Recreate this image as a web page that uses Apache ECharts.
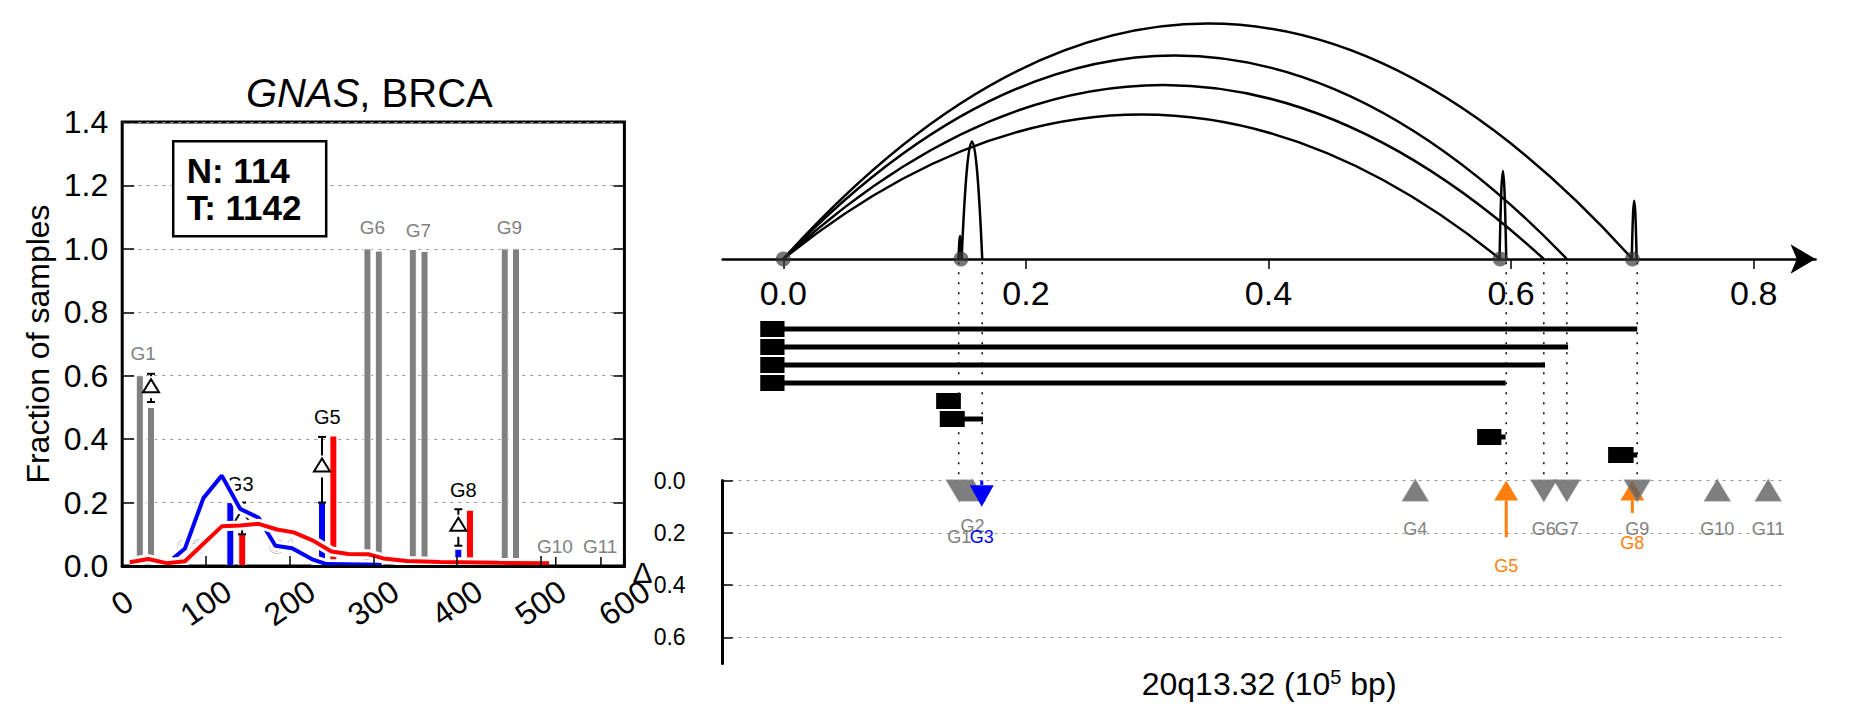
<!DOCTYPE html>
<html><head><meta charset="utf-8">
<script src="https://cdn.jsdelivr.net/npm/echarts@6/dist/echarts.min.js"></script>
<style>html,body{margin:0;padding:0;background:#fff}#c{width:1851px;height:718px}</style>
</head><body><div id="c"></div>
<script>
const FONT = "'Liberation Sans', Arial, sans-serif";

// ---------------- Left panel (GNAS, BRCA) ----------------
const grayBarX = [21, 34.4, 293, 306.6, 347.2, 361.2, 457, 470.5];
const grayBarV = [0.6, 0.5, 1.0, 0.993, 0.998, 0.992, 1.0, 1.0];
const blueBarX = [129.2, 238.7, 401.6];
const blueBarV = [0.2, 0.2, 0.053];
const redBarX = [143.4, 252.3, 415.5];
const redBarV = [0.1, 0.41, 0.176];
const errX = [34.4, 143.2, 238.7, 401.6];
const errLow = [0.517, 0.1, 0.2, 0.064];
const errHigh = [0.606, 0.2, 0.407, 0.179];
const errMark = [0.567, 0.155, 0.317, 0.13];
const blueLineX = [61, 75, 97, 119, 141, 163, 183, 203, 228, 244, 310];
const blueLineY = [0.024, 0.055, 0.214, 0.285, 0.18, 0.152, 0.064, 0.056, 0.02, 0.006, 0.004];
const redLineX = [9, 31, 53, 75, 97, 119, 141, 163, 185, 205, 228, 250, 270, 294, 312, 340, 380, 450, 510];
const redLineY = [0.012, 0.022, 0.009, 0.015, 0.07, 0.125, 0.128, 0.133, 0.115, 0.106, 0.08, 0.046, 0.038, 0.037, 0.024, 0.016, 0.013, 0.01, 0.009];
const leftGeneNames = ['G1','G2','G3','G4','G5','G6','G7','G8','G9','G10','G11'];
const leftGeneLabelX = [25, 81, 141, 190.6, 245, 299, 353.8, 407.6, 462.5, 517, 571];
const leftGeneLabelY = [0.67, 0.062, 0.258, 0.062, 0.47, 1.066, 1.059, 0.24, 1.066, 0.06, 0.06];
const leftGeneStyle = ['gray','ghost','black','ghost','black','gray','gray','black','gray','gray','gray'];
const geneTickX = [518, 572];
const sampleCounts = ['N: 114', 'T: 1142'];

// ---------------- Right panel (20q13.32) ----------------
const topTickValues = [0, 0.2, 0.4, 0.6, 0.8];
const junctionPos = [0, 0.1465, 0.591, 0.700];
const arcStart  = [0, 0, 0, 0, 0.1445, 0.147, 0.5905, 0.6995];
const arcEnd    = [0.591, 0.627, 0.646, 0.700, 0.147, 0.164, 0.596, 0.7035];
const arcHeight = [0.602, 0.725, 0.848, 0.981, 0.096, 0.49, 0.367, 0.243];
const rowIndex    = [0, 1, 2, 3, 4, 5, 6, 7];
const rowBoxStart = [-0.019, -0.019, -0.019, -0.019, 0.126, 0.129, 0.572, 0.680];
const rowBoxEnd   = [0.001, 0.001, 0.001, 0.001, 0.1464, 0.1496, 0.592, 0.701];
const rowLineEnd  = [0.704, 0.647, 0.628, 0.5955, 0.1464, 0.1647, 0.5955, 0.704];
const guidePos = [0.1446, 0.164, 0.596, 0.627, 0.646, 0.704];
const deltaTicks = [0, 0.2, 0.4, 0.6];
const deltaGenes  = ['G1','G2','G3','G4','G5','G6','G7','G8','G9','G10','G11'];
const deltaPos    = [0.145, 0.156, 0.1636, 0.521, 0.596, 0.627, 0.646, 0.700, 0.704, 0.770, 0.812];
const deltaKind   = ['nsDown','nsUp','down','nsUp','up','nsDown','nsDown','up','nsDown','nsUp','nsUp'];
const deltaTail   = [0, 0, 0.1, 0, 0.217, 0, 0, 0.124, 0, 0, 0];
const deltaLabelY = [0.215, 0.174, 0.215, 0.185, 0.327, 0.185, 0.185, 0.239, 0.185, 0.185, 0.185];

const GRAY = '#808080', BLUE = '#0000ff', RED = '#ff0000', ORANGE = '#ff7f0e';
const kindColor = {nsUp: 'rgba(95,95,95,0.8)', nsDown: 'rgba(95,95,95,0.8)', up: ORANGE, down: BLUE};
const labelColor = {nsUp: GRAY, nsDown: GRAY, up: ORANGE, down: BLUE};

function barRender(fill, w) {
  return function (params, api) {
    const b = api.coord([api.value(0), 0]);
    const t = api.coord([api.value(0), api.value(1)]);
    return {type: 'rect', shape: {x: b[0] - w / 2, y: t[1], width: w, height: b[1] - t[1]},
            style: {fill: fill, stroke: '#fff', lineWidth: 1}};
  };
}
function zip(a, b) { return a.map((v, i) => [v, b[i]]); }

const chart = echarts.init(document.getElementById('c'), null, {renderer: 'svg'});
const txt = {fontFamily: FONT, color: '#000'};

const option = {
  animation: false,
  backgroundColor: '#fff',
  title: [
    {text: '{i|GNAS}, BRCA', left: 246, top: 73, padding: 0,
     textStyle: {fontFamily: FONT, fontSize: 40, fontWeight: 'normal', color: '#000',
                 rich: {i: {fontFamily: FONT, fontSize: 40, fontStyle: 'italic', color: '#000'}}}},
    {text: sampleCounts.join('\n'), left: 172.7, top: 140.7, padding: [11, 25, 11, 14],
     borderColor: '#000', borderWidth: 2.5, backgroundColor: '#fff',
     textStyle: {fontFamily: FONT, fontSize: 35, fontWeight: 'bold', color: '#000', lineHeight: 37}}
  ],
  grid: [
    {left: 122.2, top: 122, width: 502.2, height: 444, show: true, borderColor: '#000', borderWidth: 3},
    {left: 722.65, top: 19, width: 1092.9, height: 240},
    {left: 722.65, top: 320, width: 1105, height: 144},
    {left: 722.65, top: 480.5, width: 1060, height: 183}
  ],
  xAxis: [
    {gridIndex: 0, type: 'value', min: 0, max: 600, interval: 100, z: 10,
     axisLine: {show: true, lineStyle: {color: '#000', width: 3}},
     axisTick: {show: true, inside: true, length: 10, lineStyle: {color: '#000', width: 1.5}},
     axisLabel: {rotate: 35, align: 'center', verticalAlign: 'middle', margin: 37, fontSize: 32, ...txt},
     splitLine: {show: false}},
    {gridIndex: 1, type: 'value', min: -0.05, max: 0.851,
     axisLine: {show: true, symbol: ['none', 'arrow'], symbolSize: [22, 25], lineStyle: {color: '#000', width: 2.5}},
     axisTick: {show: true, customValues: topTickValues, length: 10, lineStyle: {color: '#000', width: 1.5}},
     axisLabel: {customValues: topTickValues, formatter: v => Number(v).toFixed(1), margin: 17, fontSize: 34, ...txt},
     splitLine: {show: false}},
    {gridIndex: 2, type: 'value', min: -0.05, max: 0.861, show: false},
    {gridIndex: 3, type: 'value', min: -0.05, max: 0.8239,
     axisLine: {show: false}, axisTick: {show: false}, axisLabel: {show: false}, splitLine: {show: false},
     name: '20q13.32 (10{sup|5} bp)', nameLocation: 'middle', nameGap: 3,
     nameTextStyle: {fontFamily: FONT, fontSize: 32, color: '#000', padding: [0, 0, 0, 33],
                     rich: {sup: {fontFamily: FONT, fontSize: 20, color: '#000', verticalAlign: 'top', padding: [0, 0, 14, 0]}}}}
  ],
  yAxis: [
    {gridIndex: 0, type: 'value', min: 0, max: 1.4, interval: 0.2,
     axisLine: {show: false},
     axisTick: {show: true, inside: true, length: 12, lineStyle: {color: '#000', width: 1.5}},
     axisLabel: {formatter: v => Number(v).toFixed(1), margin: 14, fontSize: 32, ...txt},
     splitLine: {show: true, lineStyle: {type: [3, 5], color: '#999', width: 1}},
     name: 'Fraction of samples', nameLocation: 'middle', nameGap: 68,
     nameTextStyle: {fontFamily: FONT, fontSize: 32, color: '#000'}},
    {gridIndex: 0, type: 'value', position: 'right', min: 0, max: 1.4, interval: 0.2,
     axisLine: {show: false}, axisLabel: {show: false}, splitLine: {show: false},
     axisTick: {show: true, inside: true, length: 11, lineStyle: {color: '#000', width: 1.5}}},
    {gridIndex: 1, type: 'value', min: 0, max: 1, show: false},
    {gridIndex: 2, type: 'value', min: -0.5, max: 7.5, inverse: true, show: false},
    {gridIndex: 3, type: 'value', min: 0, max: 0.7, interval: 0.2, inverse: true,
     axisLine: {show: true, onZero: false, lineStyle: {color: '#000', width: 3}},
     axisTick: {show: true, inside: true, length: 10, customValues: deltaTicks, lineStyle: {color: '#000', width: 1.5}},
     axisLabel: {customValues: deltaTicks, formatter: v => Number(v).toFixed(1), margin: 37, fontSize: 23, ...txt},
     splitLine: {show: true, lineStyle: {type: [3, 5], width: 1,
                 color: ['#999', '#999', '#999', '#999', 'rgba(0,0,0,0)']}},
     name: 'Δ', nameLocation: 'middle', nameRotate: 0, nameGap: 70, nameMoveOverlap: false,
     nameTextStyle: {fontFamily: FONT, fontSize: 30, color: '#000'}}
  ],
  series: [
    // ---- left: bars ----
    {type: 'custom', coordinateSystem: 'cartesian2d', xAxisIndex: 0, yAxisIndex: 0,
     data: zip(grayBarX, grayBarV), renderItem: barRender(GRAY, 7)},
    {type: 'custom', coordinateSystem: 'cartesian2d', xAxisIndex: 0, yAxisIndex: 0,
     data: zip(blueBarX, blueBarV), renderItem: barRender(BLUE, 7)},
    {type: 'custom', coordinateSystem: 'cartesian2d', xAxisIndex: 0, yAxisIndex: 0,
     data: zip(redBarX, redBarV), renderItem: barRender(RED, 7)},
    // ---- left: error bars with delta marker ----
    {type: 'custom', coordinateSystem: 'cartesian2d', xAxisIndex: 0, yAxisIndex: 0,
     data: errX.map((x, i) => [x, errLow[i], errHigh[i], errMark[i]]),
     encode: {x: 0, y: [1, 2, 3]},
     renderItem: function (params, api) {
       const x = api.value(0);
       const pl = api.coord([x, api.value(1)]), ph = api.coord([x, api.value(2)]), pd = api.coord([x, api.value(3)]);
       const cx = pl[0], cw = 4, st = {stroke: '#000', lineWidth: 2};
       return {type: 'group', children: [
         {type: 'line', shape: {x1: cx, y1: pl[1], x2: cx, y2: ph[1]}, style: st},
         {type: 'line', shape: {x1: cx - cw, y1: pl[1], x2: cx + cw, y2: pl[1]}, style: st},
         {type: 'line', shape: {x1: cx - cw, y1: ph[1], x2: cx + cw, y2: ph[1]}, style: st},
         {type: 'rect', shape: {x: cx - 4, y: pd[1] - 10, width: 8, height: 22}, style: {fill: '#fff'}},
         {type: 'polygon', shape: {points: [[cx, pd[1] - 7], [cx - 8, pd[1] + 6], [cx + 8, pd[1] + 6]]},
          style: {fill: '#fff', stroke: '#000', lineWidth: 2}}
       ]};
     }},
    // ---- left: gene labels ----
    {type: 'custom', coordinateSystem: 'cartesian2d', xAxisIndex: 0, yAxisIndex: 0,
     data: zip(leftGeneLabelX, leftGeneLabelY),
     renderItem: function (params, api) {
       const i = params.dataIndex, p = api.coord([api.value(0), api.value(1)]);
       const s = leftGeneStyle[i];
       const style = {text: leftGeneNames[i], fontFamily: FONT, align: 'center', verticalAlign: 'middle',
                      fontSize: s === 'black' ? 20 : 19, fill: s === 'black' ? '#000' : (s === 'gray' ? GRAY : '#fff')};
       if (s === 'ghost') { style.stroke = '#9a9a9a'; style.lineWidth = 1; }
       return {type: 'text', x: p[0], y: p[1], style: style};
     }},
    // ---- left: gene position ticks ----
    {type: 'custom', coordinateSystem: 'cartesian2d', xAxisIndex: 0, yAxisIndex: 0,
     data: geneTickX.map(x => [x, 0]),
     renderItem: function (params, api) {
       const p = api.coord([api.value(0), 0]);
       return {type: 'line', shape: {x1: p[0], y1: p[1], x2: p[0], y2: p[1] - 9}, style: {stroke: '#000', lineWidth: 1.5}};
     }},
    // ---- left: density lines (white halo + colour) ----
    {type: 'line', xAxisIndex: 0, yAxisIndex: 0, data: zip(blueLineX, blueLineY), symbol: 'none',
     lineStyle: {color: '#fff', width: 10}, silent: true},
    {type: 'line', xAxisIndex: 0, yAxisIndex: 0, data: zip(blueLineX, blueLineY), symbol: 'none',
     lineStyle: {color: BLUE, width: 4}},
    {type: 'line', xAxisIndex: 0, yAxisIndex: 0, data: zip(redLineX, redLineY), symbol: 'none',
     lineStyle: {color: '#fff', width: 10}, silent: true},
    {type: 'line', xAxisIndex: 0, yAxisIndex: 0, data: zip(redLineX, redLineY), symbol: 'none',
     lineStyle: {color: RED, width: 4}},

    // ---- right: junction points ----
    {type: 'scatter', xAxisIndex: 1, yAxisIndex: 2, data: junctionPos.map(p => [p, 0]), clip: false,
     symbol: 'circle', symbolSize: 15, itemStyle: {color: 'rgba(55,55,55,0.85)'}},
    // ---- right: arcs ----
    {type: 'custom', coordinateSystem: 'cartesian2d', xAxisIndex: 1, yAxisIndex: 2,
     data: arcStart.map((s, i) => [s, arcEnd[i], arcHeight[i]]), encode: {x: [0, 1], y: 2},
     renderItem: function (params, api) {
       const a = api.value(0), b = api.value(1), h = api.value(2);
       const p1 = api.coord([a, 0]), p2 = api.coord([b, 0]), pc = api.coord([(a + b) / 2, 2 * h]);
       return {type: 'bezierCurve', shape: {x1: p1[0], y1: p1[1], x2: p2[0], y2: p2[1], cpx1: pc[0], cpy1: pc[1]},
               style: {stroke: '#000', lineWidth: 2.5, fill: null}};
     }},
    // ---- right: dotted guides ----
    {type: 'custom', coordinateSystem: 'cartesian2d', xAxisIndex: 3, yAxisIndex: 4,
     data: guidePos.map(p => [p, 0]),
     renderItem: function (params, api) {
       const t = api.coord([api.value(0), -0.835]), b = api.coord([api.value(0), 0]);
       return {type: 'line', shape: {x1: t[0], y1: t[1], x2: b[0], y2: b[1]},
               style: {stroke: '#000', lineWidth: 1.5, lineDash: [2, 8]}};
     }},
    // ---- right: transcript rows ----
    {type: 'custom', coordinateSystem: 'cartesian2d', xAxisIndex: 2, yAxisIndex: 3,
     data: rowIndex.map((r, i) => [r, rowBoxStart[i], rowBoxEnd[i], rowLineEnd[i]]), encode: {x: [1, 2, 3], y: 0},
     renderItem: function (params, api) {
       const r = api.value(0);
       const a = api.coord([api.value(1), r]), b = api.coord([api.value(2), r]), c = api.coord([api.value(3), r]);
       const ch = [{type: 'rect', shape: {x: a[0], y: a[1] - 8, width: b[0] - a[0], height: 16}, style: {fill: '#000'}}];
       if (c[0] > b[0] + 0.5) ch.push({type: 'rect', shape: {x: b[0] - 1, y: a[1] - 2.5, width: c[0] - b[0] + 1, height: 5}, style: {fill: '#000'}});
       return {type: 'group', children: ch};
     }},
    // ---- right: delta markers / arrows ----
    {type: 'custom', coordinateSystem: 'cartesian2d', xAxisIndex: 3, yAxisIndex: 4,
     data: deltaPos.map((p, i) => [p, deltaTail[i]]),
     renderItem: function (params, api) {
       const i = params.dataIndex, k = deltaKind[i], col = kindColor[k];
       const p0 = api.coord([api.value(0), 0]), pt = api.coord([api.value(0), api.value(1)]);
       const x = p0[0], y0 = p0[1], W = 12, H = 20;
       const ch = [];
       if (k === 'nsUp') {
         ch.push({type: 'polygon', shape: {points: [[x, y0], [x - W, y0 + H], [x + W, y0 + H]]},
                  style: {fill: col, stroke: 'rgba(120,120,120,0.8)', lineWidth: 2}});
       } else if (k === 'nsDown') {
         ch.push({type: 'polygon', shape: {points: [[x - W, y0], [x + W, y0], [x, y0 + H]]},
                  style: {fill: col, stroke: 'rgba(120,120,120,0.8)', lineWidth: 2}});
       } else if (k === 'up') {
         ch.push({type: 'line', shape: {x1: x, y1: y0 + H, x2: x, y2: pt[1]}, style: {stroke: col, lineWidth: 3}});
         ch.push({type: 'polygon', shape: {points: [[x, y0], [x - W, y0 + H], [x + W, y0 + H]]}, style: {fill: col}});
       } else {
         const hh = 21.5;
         ch.push({type: 'line', shape: {x1: x, y1: y0, x2: x, y2: pt[1] - hh}, style: {stroke: col, lineWidth: 3}});
         ch.push({type: 'polygon', shape: {points: [[x - W, pt[1] - hh], [x + W, pt[1] - hh], [x, pt[1]]]}, style: {fill: col}});
       }
       return {type: 'group', children: ch};
     }},
    // ---- right: delta labels ----
    {type: 'custom', coordinateSystem: 'cartesian2d', xAxisIndex: 3, yAxisIndex: 4,
     data: deltaPos.map((p, i) => [p, deltaLabelY[i]]),
     renderItem: function (params, api) {
       const i = params.dataIndex, p = api.coord([api.value(0), api.value(1)]);
       return {type: 'text', x: p[0], y: p[1],
               style: {text: deltaGenes[i], fontFamily: FONT, fontSize: 18, fill: labelColor[deltaKind[i]],
                       align: 'center', verticalAlign: 'middle'}};
     }}
  ]
};
chart.setOption(option);
</script></body></html>
